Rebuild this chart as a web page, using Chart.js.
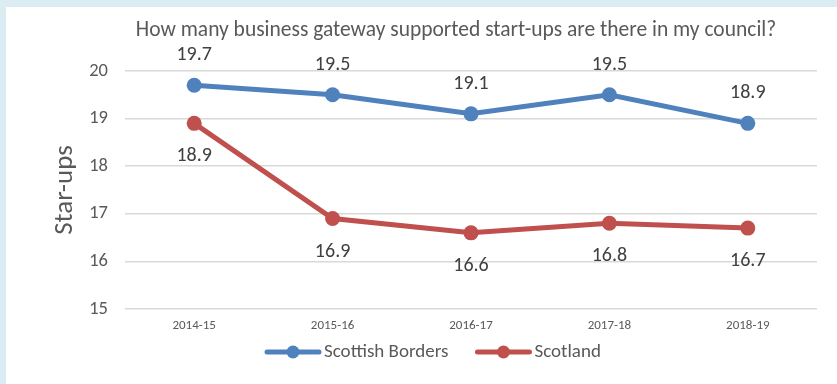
<!DOCTYPE html>
<html>
<head>
<meta charset="utf-8">
<script src="https://cdn.jsdelivr.net/npm/chart.js@4/dist/chart.umd.min.js"></script>
<style>
  html, body { margin: 0; padding: 0; }
  body { background: #dbedf3; width: 837px; height: 384px; overflow: hidden; }
  #wrap { position: absolute; left: 6px; top: 7px; width: 831px; height: 377px; background: #ffffff; }
</style>
</head>
<body>
<div id="wrap"><canvas id="c" width="831" height="377"></canvas></div>
<script>
const years = ['2014-15', '2015-16', '2016-17', '2017-18', '2018-19'];
const scottishBorders = [19.7, 19.5, 19.1, 19.5, 18.9];
const scotland = [18.9, 16.9, 16.6, 16.8, 16.7];
const yTicks = [15, 16, 17, 18, 19, 20];
const chartTitle = 'How many business gateway supported start-ups are there in my council?';

const FONT = 'Carlito, Lato, "Open Sans", sans-serif';
const BLUE = '#4f81bd';
const RED = '#c0504d';
const TEXT = '#595959';

// heading, centred a little right of the canvas middle
const heading = {
  id: 'heading',
  afterDraw(chart) {
    const ctx = chart.ctx;
    ctx.save();
    ctx.font = '21.5px ' + FONT;
    ctx.fillStyle = TEXT;
    ctx.textAlign = 'center';
    ctx.textBaseline = 'alphabetic';
    ctx.fillText(chartTitle, 450, 29);
    ctx.restore();
  }
};

// value labels: above the Borders line, below the Scotland line
const valueLabels = {
  id: 'valueLabels',
  afterDatasetsDraw(chart) {
    const ctx = chart.ctx;
    ctx.save();
    ctx.font = '20px ' + FONT;
    ctx.fillStyle = '#404040';
    ctx.textAlign = 'center';
    ctx.textBaseline = 'middle';
    chart.data.datasets.forEach((ds, i) => {
      const meta = chart.getDatasetMeta(i);
      meta.data.forEach((pt, j) => {
        const dy = i === 0 ? -30 : 33;
        ctx.fillText(ds.data[j].toFixed(1), pt.x, pt.y + dy);
      });
    });
    ctx.restore();
  }
};

// legend with line-and-marker swatches
const lineLegend = {
  id: 'lineLegend',
  afterDraw(chart) {
    const ctx = chart.ctx;
    ctx.save();
    ctx.font = '19px ' + FONT;
    ctx.textBaseline = 'middle';
    const y = 345;
    const swatch = 56, gap = 3, spacing = 27;
    let x = 259;
    chart.data.datasets.forEach(ds => {
      ctx.strokeStyle = ds.borderColor;
      ctx.lineWidth = 5;
      ctx.lineCap = 'round';
      ctx.beginPath();
      ctx.moveTo(x + 2, y);
      ctx.lineTo(x + swatch - 2, y);
      ctx.stroke();
      ctx.fillStyle = ds.borderColor;
      ctx.beginPath();
      ctx.arc(x + swatch / 2, y, 6.5, 0, Math.PI * 2);
      ctx.fill();
      ctx.fillStyle = TEXT;
      ctx.textAlign = 'left';
      ctx.fillText(ds.label, x + swatch + gap, y);
      x += swatch + gap + ctx.measureText(ds.label).width + spacing;
    });
    ctx.restore();
  }
};

new Chart(document.getElementById('c'), {
  type: 'line',
  data: {
    labels: years,
    datasets: [
      {
        label: 'Scottish Borders',
        data: scottishBorders,
        borderColor: BLUE,
        backgroundColor: BLUE,
        borderWidth: 5,
        pointRadius: 7.5,
        pointBackgroundColor: BLUE,
        pointBorderWidth: 0,
        tension: 0
      },
      {
        label: 'Scotland',
        data: scotland,
        borderColor: RED,
        backgroundColor: RED,
        borderWidth: 5,
        pointRadius: 7.5,
        pointBackgroundColor: RED,
        pointBorderWidth: 0,
        tension: 0
      }
    ]
  },
  options: {
    responsive: false,
    animation: false,
    events: [],
    layout: { padding: { left: 0, right: 20, top: 64, bottom: 0 } },
    plugins: {
      legend: { display: false },
      tooltip: { enabled: false },
      title: { display: false }
    },
    scales: {
      x: {
        offset: true,
        grid: { display: false, drawTicks: false },
        border: { display: false },
        ticks: { color: TEXT, font: { family: FONT, size: 13 }, padding: 9 },
        afterFit(scale) { scale.height = 75; }
      },
      y: {
        min: 15,
        max: 20,
        afterBuildTicks(scale) { scale.ticks = yTicks.map(v => ({ value: v })); },
        grid: { color: '#d9d9d9', lineWidth: 1.5, drawTicks: false },
        border: { display: false },
        ticks: { color: TEXT, font: { family: FONT, size: 18.5 }, padding: 17 },
        title: {
          display: true,
          text: 'Star-ups',
          color: TEXT,
          font: { family: FONT, size: 27 },
          padding: { top: 42.8, bottom: 0 }
        },
        afterFit(scale) { scale.width = 119; }
      }
    }
  },
  plugins: [heading, valueLabels, lineLegend]
});
</script>
</body>
</html>
